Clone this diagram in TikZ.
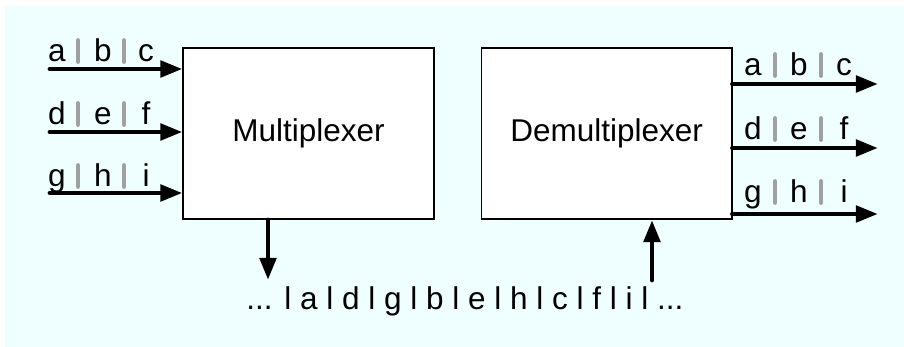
\documentclass[tikz,border=0pt]{standalone}
\usepackage{fontspec}
\setmainfont{Liberation Sans}
\usetikzlibrary{arrows.meta, positioning, calc}
\definecolor{bgcyan}{RGB}{239,255,255}
\definecolor{bargray}{RGB}{160,160,160}
\tikzset{
	box/.style={
		draw,
		line width=1.4pt,
		fill=white,
		minimum width=6.25cm,
		minimum height=4.275cm,
		inner sep=0pt,
		font=\fontsize{22.4}{26}\selectfont
	},
	arrow/.style={
		-{Triangle[length=0.55cm, width=0.4cm]},
		line width=3.5pt,
		line cap=round
	},
	bar/.style={
		bargray,
		line width=3.5pt,
		line cap=round
	},
	letter/.style={
		anchor=base,
		inner sep=0pt,
		font=\fontsize{22.4}{26}\selectfont
	}
}

\begin{document}
\begin{tikzpicture}[x=0.025cm, y=-0.025cm]
	
	% Background
	\useasboundingbox (0,0) rectangle (904,347);
	\fill[bgcyan] (5,6) rectangle (904,347);
	
	% Boxes
	\node[box] (mux) at (308.5,133.5) {Multiplexer};
	\node[box, right=1.15cm of mux] (demux) {Demultiplexer};
	
	% Inputs a-i
	\foreach \y/\ly/\p/\q/\s [count=\i] in {69/62/a/b/c, 132/125/d/e/f, 193/187/g/h/i} {
		\coordinate (in\i) at (50,\y);
		\draw[arrow] (in\i) -- (in\i -| mux.west);
		\node[letter] (in\i-1) at (57,\ly) {\p};
		\node[letter] (in\i-2) at (103,\ly) {\q};
		\node[letter] (in\i-3) at (146,\ly) {\s};
		\draw[bar] (78,\ly-0.5) -- (78,\ly-21.5);
		\draw[bar] (124,\ly-0.5) -- (124,\ly-21.5);
	}
	
	% Outputs a-i
	\foreach \y/\ly/\p/\q/\s [count=\i] in {84/76/a/b/c, 148/140/d/e/f, 214/203/g/h/i} {
		\coordinate (out\i) at (878,\y);
		\draw[arrow] (out\i -| demux.east) -- (out\i);
		\node[letter] (out\i-1) at (753,\ly) {\p};
		\node[letter] (out\i-2) at (799,\ly) {\q};
		\node[letter] (out\i-3) at (844,\ly) {\s};
		\draw[bar] (775,\ly-0.5) -- (775,\ly-21.5);
		\draw[bar] (821,\ly-0.5) -- (821,\ly-21.5);
	}
	
	% Multiplexed stream
	\node[letter] (stream) at (465,310) {... l a l d l g l b l e l h l c l f l i l ...};
	\coordinate (down) at (268,280);
	\coordinate (up) at (652,280);
	\draw[arrow] (down |- mux.south) -- (down);
	\draw[arrow] (up) -- (up |- demux.south);
	
\end{tikzpicture}
\end{document}
